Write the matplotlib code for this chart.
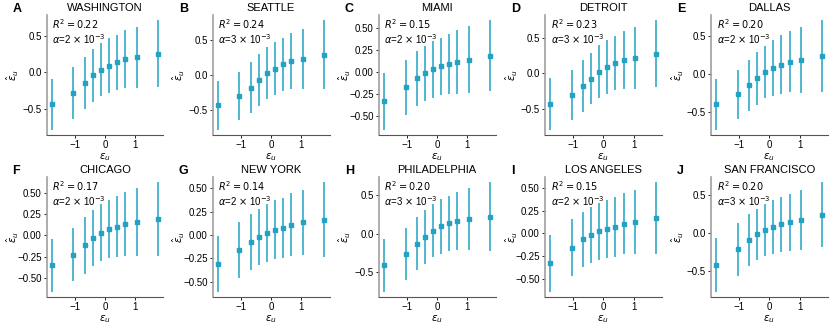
import matplotlib
matplotlib.use("Agg")
import matplotlib.pyplot as plt

plt.rcParams['font.family'] = ['Liberation Sans', 'DejaVu Sans']
plt.rcParams['mathtext.fontset'] = 'dejavusans'

# decile centres of the observed residual (shared by all cities)
eps_bins = [-1.75, -1.04, -0.67, -0.39, -0.13, 0.13, 0.39, 0.67, 1.04, 1.75]

cities = ["WASHINGTON", "SEATTLE", "MIAMI", "DETROIT", "DALLAS",
          "CHICAGO", "NEW YORK", "PHILADELPHIA", "LOS ANGELES", "SAN FRANCISCO"]
letters = ["A", "B", "C", "D", "E", "F", "G", "H", "I", "J"]
r2 = [0.22, 0.24, 0.15, 0.23, 0.20, 0.17, 0.14, 0.20, 0.15, 0.20]
alpha_coef = [2, 3, 2, 3, 2, 2, 2, 3, 2, 3]

# predicted residual (mean) per bin
pred_mean = [
    [-0.44, -0.28, -0.145, -0.04, 0.033, 0.093, 0.14, 0.187, 0.205, 0.257],
    [-0.435, -0.30, -0.18, -0.072, 0.024, 0.092, 0.155, 0.203, 0.232, 0.295],
    [-0.33, -0.171, -0.072, -0.011, 0.030, 0.065, 0.095, 0.118, 0.141, 0.183],
    [-0.427, -0.303, -0.18, -0.08, 0.019, 0.085, 0.147, 0.185, 0.218, 0.275],
    [-0.394, -0.265, -0.146, -0.053, 0.031, 0.084, 0.128, 0.164, 0.19, 0.235],
    [-0.355, -0.23, -0.117, -0.032, 0.032, 0.077, 0.105, 0.133, 0.161, 0.194],
    [-0.308, -0.16, -0.076, -0.022, 0.022, 0.058, 0.076, 0.112, 0.134, 0.163],
    [-0.416, -0.27, -0.133, -0.04, 0.04, 0.093, 0.133, 0.168, 0.19, 0.221],
    [-0.332, -0.157, -0.067, -0.019, 0.022, 0.052, 0.075, 0.104, 0.127, 0.164],
    [-0.424, -0.219, -0.094, -0.022, 0.036, 0.076, 0.112, 0.138, 0.17, 0.241],
]

# standard deviation per bin
pred_std = [
    [0.35, 0.36, 0.36, 0.365, 0.365, 0.375, 0.38, 0.40, 0.425, 0.46],
    [0.345, 0.343, 0.37, 0.37, 0.372, 0.38, 0.38, 0.405, 0.435, 0.49],
    [0.318, 0.308, 0.31, 0.31, 0.32, 0.323, 0.338, 0.36, 0.376, 0.40],
    [0.365, 0.35, 0.36, 0.36, 0.374, 0.38, 0.38, 0.407, 0.436, 0.468],
    [0.332, 0.323, 0.336, 0.35, 0.345, 0.372, 0.385, 0.40, 0.43, 0.473],
    [0.312, 0.315, 0.335, 0.33, 0.34, 0.346, 0.363, 0.38, 0.40, 0.435],
    [0.30, 0.298, 0.30, 0.30, 0.311, 0.312, 0.323, 0.334, 0.352, 0.40],
    [0.342, 0.34, 0.345, 0.354, 0.345, 0.363, 0.363, 0.38, 0.40, 0.447],
    [0.31, 0.31, 0.30, 0.31, 0.314, 0.32, 0.33, 0.336, 0.354, 0.396],
    [0.355, 0.35, 0.344, 0.34, 0.34, 0.357, 0.36, 0.375, 0.397, 0.424],
]

color = "#22a3c3"

fig, axes = plt.subplots(2, 5, figsize=(8.31, 3.24), dpi=100)
fig.subplots_adjust(left=0.056, right=0.996, bottom=0.083, top=0.954,
                    wspace=0.42, hspace=0.35)

for i, ax in enumerate(axes.flat):
    ax.errorbar(eps_bins, pred_mean[i], yerr=pred_std[i], fmt='s', ms=2.8,
                color=color, ecolor=color, elinewidth=1.1, capsize=0)
    ax.set_title(cities[i], fontsize=8, pad=3)
    ax.text(-0.29, 1.0, letters[i], transform=ax.transAxes, fontsize=9,
            fontweight='bold', va='bottom', ha='left')
    ann = "$R^2 = %.2f$\n$\\alpha$=%d $\\times$ 10$^{-3}$" % (r2[i], alpha_coef[i])
    ax.text(0.05, 0.985, ann, transform=ax.transAxes, fontsize=7,
            va='top', ha='left', linespacing=1.15)
    ax.set_xticks([-1, 0, 1])
    ax.set_xlabel(r"$\varepsilon_u$", fontsize=7.5, labelpad=1)
    ax.set_ylabel(r"$\hat{\varepsilon}_u$", fontsize=7.5)
    ax.yaxis.set_label_coords(-0.215, 0.5)
    ax.tick_params(labelsize=7, length=2, width=0.6, pad=1.5)
    for side in ['top', 'right']:
        ax.spines[side].set_visible(False)
    ax.spines['left'].set_color('#a0a0a0')
    ax.spines['left'].set_linewidth(1.2)
    ax.spines['bottom'].set_color('#555555')
    ax.spines['bottom'].set_linewidth(0.8)

fig.savefig("out.png", dpi=100)
